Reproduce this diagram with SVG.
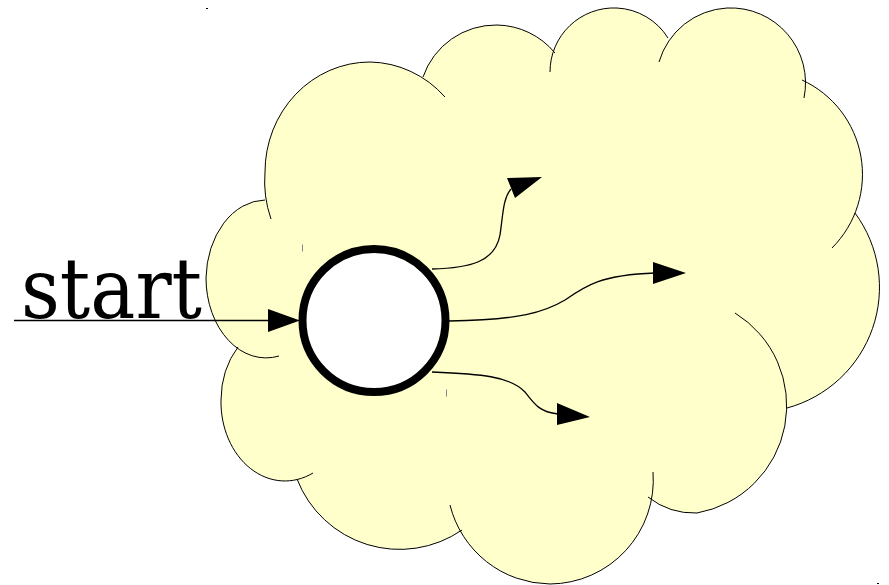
<svg xmlns="http://www.w3.org/2000/svg" width="889" height="585" viewBox="0 0 889 585">
  <style>
    .cloud-fill { fill: #ffffcc; stroke: none; }
    .cloud-line { fill: none; stroke: #000; stroke-width: 1; }
    .state { fill: #fff; stroke: #000; stroke-width: 8; }
    .edge { fill: none; stroke: #000; stroke-width: 1.3; }
    .head { fill: #000; stroke: none; }
    .tick { stroke: #888; stroke-width: 1; }
    .label { font-family: "DejaVu Serif", "Liberation Serif", serif; font-size: 84px; fill: #000; }
  </style>

  <!-- cloud: filled body, then the bump arcs -->
  <g id="cloud">
    <path class="cloud-fill" d="M279,356 A60,80 0 0,1 206,278 A60,80 0 0,1 265,200
      L271,219 A105,110 0 0,1 265,172 A105,110 0 0,1 370,62 A105,110 0 0,1 445,97
      L423,77 A77,77 0 0,1 497,25 A77,77 0 0,1 555,53
      L550,72 A64,64 0 0,1 617,8 A64,64 0 0,1 668,38
      L659,62 A75,75 0 0,1 727,8 A75,75 0 0,1 804,98
      L802,80 A104,104 0 0,1 832,248
      L855,213 A125,125 0 0,1 787,408
      L735,313 A109,109 0 0,1 697,513 A75,75 0 0,1 648,497
      L653,472 A104,104 0 0,1 550,584 A104,104 0 0,1 450,505
      L462,530 A110,110 0 0,1 297,479
      L313,473 A64,79 0 0,1 221,400 A64,79 0 0,1 238,347 Z"/>
    <path class="cloud-line" d="M279,356 A60,80 0 0,1 206,278 A60,80 0 0,1 265,200
      M271,219 A105,110 0 0,1 265,172 A105,110 0 0,1 370,62 A105,110 0 0,1 445,97
      M423,77 A77,77 0 0,1 497,25 A77,77 0 0,1 555,53
      M550,72 A64,64 0 0,1 617,8 A64,64 0 0,1 668,38
      M659,62 A75,75 0 0,1 727,8 A75,75 0 0,1 804,98
      M802,80 A104,104 0 0,1 832,248
      M855,213 A125,125 0 0,1 787,408
      M735,313 A109,109 0 0,1 697,513 A75,75 0 0,1 648,497
      M653,472 A104,104 0 0,1 550,584 A104,104 0 0,1 450,505
      M462,530 A110,110 0 0,1 297,479
      M313,473 A64,79 0 0,1 221,400 A64,79 0 0,1 238,347"/>
    <line class="tick" x1="302.5" y1="244.5" x2="302.5" y2="251.5"/>
    <line class="tick" x1="446.5" y1="389.5" x2="446.5" y2="396.5"/>
  </g>

  <!-- corner marks of the drawing area -->
  <rect x="206" y="8" width="2" height="1" fill="#000"/>
  <rect x="877" y="583" width="2" height="1" fill="#000"/>

  <g id="label-start">
    <text class="label" x="21" y="318" textLength="181" lengthAdjust="spacingAndGlyphs">start</text>
  </g>

  <g id="state-start">
    <circle class="state" cx="374" cy="320.5" r="71.5"/>
  </g>

  <g id="connectors">
    <!-- initial transition -->
    <line class="edge" x1="14" y1="320.5" x2="270" y2="320.5"/>
    <polygon class="head" points="268,309 300,320.5 268,332"/>
    <!-- upper exit -->
    <path class="edge" d="M432,269 C470,268 495,262 500,235 C503,215 503,198 511,189"/>
    <polygon class="head" points="507,178 542,177 515,198"/>
    <!-- middle exit -->
    <path class="edge" d="M449,321 C520,320 545,312 565,300 C585,286 600,275 655,273"/>
    <polygon class="head" points="653,262 686,273 653,284"/>
    <!-- lower exit -->
    <path class="edge" d="M432,372 C480,374 510,376 525,392 C535,405 540,412 558,414"/>
    <polygon class="head" points="557,403 590,417 557,425"/>
  </g>
</svg>
